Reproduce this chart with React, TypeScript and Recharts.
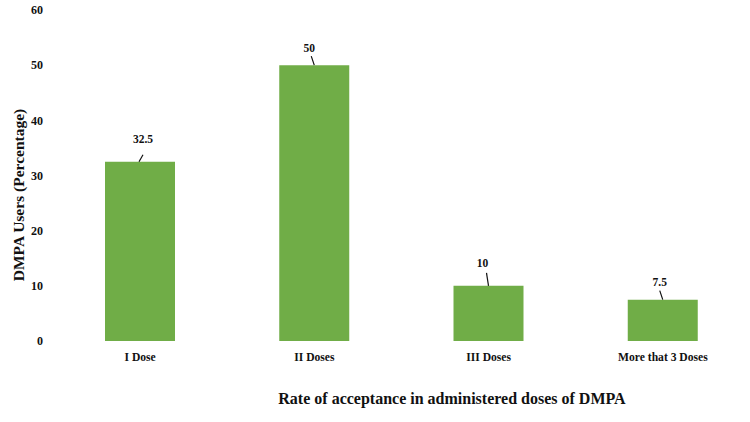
import React from "react";
import { BarChart, Bar, XAxis, YAxis, LabelList, Label } from "recharts";

const categories = ["I Dose", "II Doses", "III Doses", "More that 3 Doses"];
const users = [32.5, 50, 10, 7.5];
const yTicks = [0, 10, 20, 30, 40, 50, 60];

const data = categories.map((c, i) => ({ name: c, value: users[i] }));

const FONT = "'Liberation Serif', 'Times New Roman', serif";
const TEXT = "#111";

// leader-line label styling per bar (text offset, line offsets)
const LABEL_STYLE = [
  { tdx: 3, tdy: 23, l1: 3, l2: -1, len: 7 },
  { tdx: -5, tdy: 17, l1: -3, l2: 0, len: 9 },
  { tdx: -6, tdy: 23, l1: -2, l2: 0, len: 13 },
  { tdx: -3, tdy: 18, l1: -3, l2: 0, len: 9 },
];

const LeaderLabel = (props: any) => {
  const { x, y, width, value, index } = props;
  const s = LABEL_STYLE[index] || LABEL_STYLE[0];
  const cx = x + width / 2;
  return (
    <g>
      <line x1={cx + s.l1} y1={y - s.len} x2={cx + s.l2} y2={y} stroke={TEXT} strokeWidth={1.2} />
      <text
        x={cx + s.tdx}
        y={y - s.tdy}
        textAnchor="middle"
        dominantBaseline="central"
        fontFamily={FONT}
        fontWeight="bold"
        fontSize={11.5}
        fill={TEXT}
      >
        {value}
      </text>
    </g>
  );
};

export default function App() {
  return (
    <div style={{ position: "absolute", left: 0, top: 0, width: 750, height: 422, background: "#fff" }}>
      <BarChart width={750} height={422} data={data} margin={{ top: 10, right: 0, bottom: 0, left: 0 }}>
        <XAxis
          dataKey="name"
          height={81}
          axisLine={false}
          tickLine={false}
          tickSize={10}
          tickMargin={2}
          interval={0}
          tick={{ fontFamily: FONT, fontWeight: "bold", fontSize: 11.6, fill: TEXT }}
        >
          <Label
            content={() => (
              <text
                x={452}
                y={398}
                textAnchor="middle"
                dominantBaseline="central"
                fontFamily={FONT}
                fontWeight="bold"
                fontSize={16}
                fill={TEXT}
              >
                Rate of acceptance in administered doses of DMPA
              </text>
            )}
          />
        </XAxis>
        <YAxis
          width={53}
          domain={[0, 60]}
          ticks={yTicks}
          axisLine={false}
          tickLine={false}
          tickSize={10}
          tickMargin={0}
          tick={{ fontFamily: FONT, fontWeight: "bold", fontSize: 12, fill: TEXT }}
        >
          <Label
            content={() => (
              <text
                x={18}
                y={195}
                transform="rotate(-90 18 195)"
                textAnchor="middle"
                dominantBaseline="central"
                fontFamily={FONT}
                fontWeight="bold"
                fontSize={15.5}
                fill={TEXT}
              >
                DMPA Users (Percentage)
              </text>
            )}
          />
        </YAxis>
        <Bar dataKey="value" fill="#70AD47" barSize={70} isAnimationActive={false}>
          <LabelList dataKey="value" content={LeaderLabel} />
        </Bar>
      </BarChart>
    </div>
  );
}
